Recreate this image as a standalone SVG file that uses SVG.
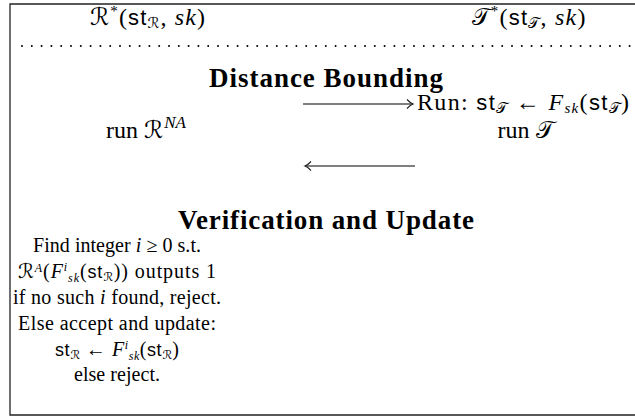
<svg xmlns="http://www.w3.org/2000/svg" width="635" height="416" viewBox="0 0 635 416">
<defs>
<style>
.t{font-family:"Liberation Serif","Times New Roman",serif;font-size:24px;fill:#000}
.s{font-size:20px}
.b{font-weight:bold;font-size:27px}
.it{font-style:italic}
.sf{font-family:"Liberation Sans",Arial,sans-serif;font-size:22px}
.s .sf{font-size:18px}
.cal{font-family:"DejaVu Serif","DejaVu Sans",serif;font-style:normal}
.sm{font-size:15px}
.s .sm{font-size:12px}
.frame{fill:none;stroke:#222;stroke-width:1.3}
.arr{stroke:#555;stroke-width:1.3;fill:none}
</style>
<marker id="head" viewBox="-8 -6 10 12" refX="0" refY="0" markerWidth="10" markerHeight="12" markerUnits="userSpaceOnUse" orient="auto">
<path d="M-6,-4.5 Q-2.5,-0.8 0,0 Q-2.5,0.8 -6,4.5" fill="none" stroke="#222" stroke-width="1.1"/>
</marker>
</defs>
<rect width="635" height="416" fill="#fff"/>
<path class="frame" d="M635,4 H10 V415 H635"/>

<g id="header-reader">
<text class="t" x="147.5" y="25" text-anchor="middle" textLength="115"><tspan class="cal">ℛ</tspan><tspan class="sm" dy="-9">*</tspan><tspan dy="9">(</tspan><tspan class="sf">st</tspan><tspan class="cal sm" dy="3">ℛ</tspan><tspan dy="-3">, </tspan><tspan class="it">sk</tspan>)</text>
</g>
<g id="header-tag">
<text class="t" x="528.5" y="25" text-anchor="middle" textLength="114"><tspan class="cal">𝒯</tspan><tspan class="sm" dy="-9">*</tspan><tspan dy="9">(</tspan><tspan class="sf">st</tspan><tspan class="cal sm" dy="3">𝒯</tspan><tspan dy="-3">, </tspan><tspan class="it">sk</tspan>)</text>
</g>

<g id="separator">
<line x1="22" y1="46" x2="630" y2="46" stroke="#000" stroke-width="2" stroke-linecap="round" stroke-dasharray="0 9.8"/>
</g>

<g id="distance-bounding-title">
<text class="t b" x="326" y="87" text-anchor="middle" textLength="234">Distance Bounding</text>
</g>

<g id="tag-run">
<text class="t" x="417" y="110" textLength="212">Run: <tspan class="sf">st</tspan><tspan class="cal sm" dy="3">𝒯</tspan><tspan dy="-3"> ← </tspan><tspan class="it">F</tspan><tspan class="it sm" dy="3">sk</tspan><tspan dy="-3">(</tspan><tspan class="sf">st</tspan><tspan class="cal sm" dy="3">𝒯</tspan><tspan dy="-3">)</tspan></text>
</g>

<g id="reader-run">
<text class="t" x="146" y="138" text-anchor="middle" font-size="26">run <tspan class="cal">ℛ</tspan><tspan class="it" font-size="17" dx="1" dy="-10">NA</tspan></text>
</g>

<g id="tag-run-label">
<text class="t" x="525.5" y="138" text-anchor="middle">run <tspan class="cal">𝒯</tspan></text>
</g>

<g id="connectors">
<line class="arr" x1="303" y1="104" x2="413" y2="104" marker-end="url(#head)"/>
<line class="arr" x1="415" y1="166" x2="305" y2="166" marker-end="url(#head)"/>
</g>

<g id="verification-title">
<text class="t b" x="326" y="229" text-anchor="middle" textLength="296">Verification and Update</text>
</g>

<g id="verification">
<text class="t s" x="117" y="252" text-anchor="middle" textLength="168">Find integer <tspan class="it">i</tspan> ≥ 0 s.t.</text>
<text class="t s" x="117" y="278" text-anchor="middle" textLength="198"><tspan class="cal">ℛ</tspan><tspan class="it sm" dy="-6.5">A</tspan><tspan dy="6.5">(</tspan><tspan class="it">F</tspan><tspan class="it sm" dy="-7.5">i</tspan><tspan class="it sm" dy="11.5">sk</tspan><tspan dy="-4">(</tspan><tspan class="sf">st</tspan><tspan class="cal sm" dy="3">ℛ</tspan><tspan dy="-3">)) outputs 1</tspan></text>
<text class="t s" x="117" y="304" text-anchor="middle" textLength="208">if no such <tspan class="it">i</tspan> found, reject.</text>
<text class="t s" x="117" y="330" text-anchor="middle" textLength="198">Else accept and update:</text>
<text class="t s" x="117" y="356" text-anchor="middle" textLength="124"><tspan class="sf">st</tspan><tspan class="cal sm" dy="3">ℛ</tspan><tspan dy="-3"> ← </tspan><tspan class="it">F</tspan><tspan class="it sm" dy="-7.5">i</tspan><tspan class="it sm" dy="11.5">sk</tspan><tspan dy="-4">(</tspan><tspan class="sf">st</tspan><tspan class="cal sm" dy="3">ℛ</tspan><tspan dy="-3">)</tspan></text>
<text class="t s" x="117" y="381" text-anchor="middle" textLength="86">else reject.</text>
</g>
</svg>
